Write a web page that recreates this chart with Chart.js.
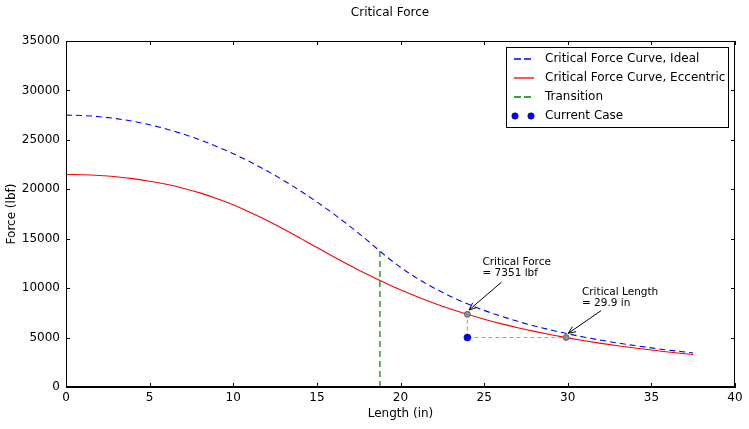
<!DOCTYPE html>
<html>
<head>
<meta charset="utf-8">
<script src="https://cdn.jsdelivr.net/npm/chart.js@4.4.0/dist/chart.umd.min.js"></script>
<style>
  html, body { margin: 0; padding: 0; background: #fff; }
  #wrap { width: 749px; height: 429px; }
</style>
</head>
<body>
<div id="wrap"><canvas id="myChart" width="749" height="429"></canvas></div>
<script>
// valores
const lengths = [0, 1, 2, 3, 4, 5, 6, 7, 8, 9, 10, 11, 12, 13, 14, 15, 16, 17, 18, 18.77,
                 19, 20, 21, 22, 23, 24, 25, 26, 27, 28, 29, 30, 31, 32, 33, 34, 35, 36, 37, 37.5];
const idealForce = [27500, 27461, 27344, 27149, 26876, 26524, 26095, 25588, 25002, 24339,
                    23597, 22777, 21880, 20904, 19850, 18718, 17508, 16220, 14854, 13750,
                    13419, 12111, 10985, 10009, 9158, 8410, 7751, 7166, 6645, 6179,
                    5760, 5383, 5041, 4731, 4448, 4191, 3955, 3738, 3539, 3445];
const eccentricForce = [21500, 21476, 21397, 21265, 21075, 20820, 20505, 20110, 19635, 19075,
                        18435, 17685, 16867, 15985, 15060, 14118, 13183, 12273, 11400, 10768,
                        10587, 9827, 9126, 8481, 7892, 7351, 6862, 6412, 6002, 5627,
                        5283, 4968, 4682, 4414, 4169, 3944, 3736, 3544, 3365, 3281];
const transitionLength = [18.77, 18.77];
const transitionForce = [0, 13750];
const currentLength = [24];
const currentForce = [5000];
const criticalLength = [24, 29.9];
const criticalForce = [7351, 5000];
const xTicks = [0, 5, 10, 15, 20, 25, 30, 35, 40];
const yTicks = [0, 5000, 10000, 15000, 20000, 25000, 30000, 35000];
const seriesLabels = ['Critical Force Curve, Ideal', 'Critical Force Curve, Eccentric', 'Transition', 'Current Case'];
const noteTexts = [['Critical Force', '= 7351 lbf'], ['Critical Length', '= 29.9 in']];

const pts = (xs, ys) => xs.map((x, i) => ({x: x, y: ys[i]}));

// anotaciones (texto abajo-izquierda y flecha, en unidades de datos)
const notes = [
  {lines: noteTexts[0], tx: 24.9, ty: 11000, from: [26.05, 10620], to: [24.1, 7790]},
  {lines: noteTexts[1], tx: 30.85, ty: 8000, from: [31.99, 7720], to: [30.03, 5430]}
];

const FONT = '"DejaVu Sans", sans-serif';

const extras = {
  id: 'extras',
  afterDraw(chart) {
    const ctx = chart.ctx;
    const a = chart.chartArea;
    const xs = chart.scales.x, ys = chart.scales.y;
    ctx.save();
    // marco
    ctx.strokeStyle = '#000';
    ctx.lineWidth = 1;
    ctx.setLineDash([]);
    ctx.strokeRect(Math.round(a.left) + 0.5, Math.round(a.top) + 0.5,
                   Math.round(a.right - a.left) - 1, Math.round(a.bottom - a.top) - 1);
    // ticks hacia adentro
    ctx.beginPath();
    xTicks.forEach(v => {
      const px = Math.round(xs.getPixelForValue(v)) + 0.5;
      ctx.moveTo(px, a.bottom); ctx.lineTo(px, a.bottom - 4);
      ctx.moveTo(px, a.top); ctx.lineTo(px, a.top + 4);
    });
    yTicks.forEach(v => {
      const py = Math.round(ys.getPixelForValue(v)) + 0.5;
      ctx.moveTo(a.left, py); ctx.lineTo(a.left + 4, py);
      ctx.moveTo(a.right, py); ctx.lineTo(a.right - 4, py);
    });
    ctx.stroke();

    // titulo
    ctx.fillStyle = '#000';
    ctx.font = '12px ' + FONT;
    ctx.textAlign = 'center';
    ctx.textBaseline = 'middle';
    ctx.fillText('Critical Force', 390, 13);

    // anotaciones
    ctx.font = '10.5px ' + FONT;
    ctx.textAlign = 'left';
    notes.forEach(n => {
      const x0 = xs.getPixelForValue(n.tx), y0 = ys.getPixelForValue(n.ty);
      ctx.fillText(n.lines[0], x0, y0 - 16);
      ctx.fillText(n.lines[1], x0, y0 - 5);
      const sx = xs.getPixelForValue(n.from[0]), sy = ys.getPixelForValue(n.from[1]);
      const ex = xs.getPixelForValue(n.to[0]), ey = ys.getPixelForValue(n.to[1]);
      const ang = Math.atan2(ey - sy, ex - sx);
      ctx.beginPath();
      ctx.moveTo(sx, sy); ctx.lineTo(ex, ey);
      ctx.moveTo(ex - 8 * Math.cos(ang - 0.4), ey - 8 * Math.sin(ang - 0.4));
      ctx.lineTo(ex, ey);
      ctx.lineTo(ex - 8 * Math.cos(ang + 0.4), ey - 8 * Math.sin(ang + 0.4));
      ctx.strokeStyle = '#000';
      ctx.lineWidth = 1;
      ctx.stroke();
    });

    // leyenda
    const lx = 506.5, ly = 47.5, lw = 222, lh = 80;
    ctx.fillStyle = '#fff';
    ctx.fillRect(lx, ly, lw, lh);
    ctx.strokeStyle = '#000';
    ctx.lineWidth = 1;
    ctx.strokeRect(lx, ly, lw, lh);
    ctx.font = '12px ' + FONT;
    ctx.textBaseline = 'middle';
    chart.data.datasets.slice(0, 4).forEach((ds, i) => {
      const ry = 59 + i * 19;
      if (ds.showLine === false) {
        [515, 531].forEach(cx => {
          ctx.beginPath();
          ctx.arc(cx, ry, 3.2, 0, Math.PI * 2);
          ctx.fillStyle = ds.pointBackgroundColor;
          ctx.fill();
          ctx.lineWidth = 0.6;
          ctx.strokeStyle = ds.pointBorderColor;
          ctx.stroke();
        });
      } else {
        ctx.beginPath();
        ctx.setLineDash(ds.borderDash ? [7, 3] : []);
        ctx.strokeStyle = ds.borderColor;
        ctx.lineWidth = 1.3;
        ctx.moveTo(514, ry); ctx.lineTo(534, ry);
        ctx.stroke();
        ctx.setLineDash([]);
      }
      ctx.fillStyle = '#000';
      ctx.fillText(ds.label, 545, ry);
    });
    ctx.restore();
  }
};

const ctx = document.getElementById('myChart');
const myChart = new Chart(ctx, {
  type: 'line',
  data: {
    datasets: [
      {
        label: seriesLabels[0],
        data: pts(lengths, idealForce),
        borderColor: '#0000ff',
        borderWidth: 1.1,
        borderDash: [6, 4],
        pointRadius: 0,
        cubicInterpolationMode: 'monotone',
        order: 6
      },
      {
        label: seriesLabels[1],
        data: pts(lengths, eccentricForce),
        borderColor: '#ff0000',
        borderWidth: 1.1,
        pointRadius: 0,
        cubicInterpolationMode: 'monotone',
        order: 5
      },
      {
        label: seriesLabels[2],
        data: pts(transitionLength, transitionForce),
        borderColor: '#008000',
        borderWidth: 1.2,
        borderDash: [6, 4],
        pointRadius: 0,
        order: 4
      },
      {
        label: seriesLabels[3],
        data: pts(currentLength, currentForce),
        showLine: false,
        pointRadius: 3.5,
        pointBackgroundColor: '#0000ff',
        pointBorderColor: '#0000aa',
        pointBorderWidth: 0.6,
        order: 1
      },
      {
        label: 'guia vertical',
        data: pts([currentLength[0], criticalLength[0]], [currentForce[0], criticalForce[0]]),
        borderColor: '#a0a0a0',
        borderWidth: 1,
        borderDash: [4, 3],
        pointRadius: 0,
        order: 3
      },
      {
        label: 'guia horizontal',
        data: pts([currentLength[0], criticalLength[1]], [currentForce[0], criticalForce[1]]),
        borderColor: '#a0a0a0',
        borderWidth: 1,
        borderDash: [4, 3],
        pointRadius: 0,
        order: 3
      },
      {
        label: 'puntos criticos',
        data: pts(criticalLength, criticalForce),
        showLine: false,
        pointRadius: 3,
        pointBackgroundColor: '#8c8c8c',
        pointBorderColor: '#555555',
        pointBorderWidth: 0.8,
        order: 2
      }
    ]
  },
  options: {
    responsive: false,
    animation: false,
    devicePixelRatio: 1,
    layout: { padding: { top: 41, right: 14, left: 0, bottom: 0 } },
    plugins: {
      legend: { display: false },
      tooltip: { enabled: false },
      title: { display: false }
    },
    scales: {
      x: {
        type: 'linear',
        min: 0,
        max: 40,
        afterFit: s => { s.height = 42; },
        afterBuildTicks: s => { s.ticks = xTicks.map(v => ({value: v})); },
        ticks: { color: '#000', font: { family: FONT, size: 12 }, padding: 4, maxRotation: 0,
                 callback: v => String(v) },
        grid: { display: false, drawTicks: false },
        border: { display: true, color: '#000' },
        title: { display: true, text: 'Length (in)', color: '#000',
                 font: { family: FONT, size: 12 }, padding: { top: 0, bottom: 8 } }
      },
      y: {
        type: 'linear',
        min: 0,
        max: 35000,
        afterFit: s => { s.width = 66; },
        afterBuildTicks: s => { s.ticks = yTicks.map(v => ({value: v})); },
        ticks: { color: '#000', font: { family: FONT, size: 12 }, padding: 6,
                 callback: v => String(v) },
        grid: { display: false, drawTicks: false },
        border: { display: true, color: '#000' },
        title: { display: true, text: 'Force (lbf)', color: '#000',
                 font: { family: FONT, size: 12 }, padding: { top: 5, bottom: 0 } }
      }
    }
  },
  plugins: [extras]
});
</script>
</body>
</html>
